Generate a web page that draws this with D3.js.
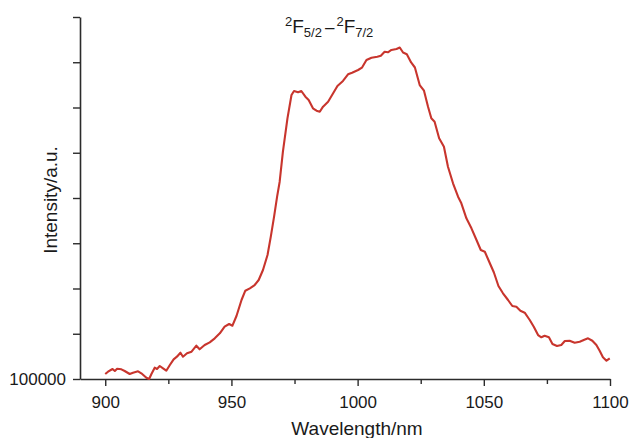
<!DOCTYPE html>
<html>
<head>
<meta charset="utf-8">
<script src="https://cdn.jsdelivr.net/npm/d3@7"></script>
<style>
  html, body { margin: 0; padding: 0; background: #fff; }
  svg { display: block; font-family: "Liberation Sans", Arial, Helvetica, sans-serif; }
</style>
</head>
<body>
<div id="chart"></div>
<script>
// emission spectrum
const wavelengths = [
  900, 901.1, 902.9, 903.8, 904.7, 906.4, 907.7, 909.7, 911.0, 913.0,
  914.3, 916.3, 917.4, 918.3, 919.6, 920.5, 921.6, 922.9, 924.2, 925.6,
  927.1, 928.4, 929.8, 930.8, 932.4, 934.2, 936.1, 937.4, 939.4, 941.4,
  943.4, 945.4, 947.3, 949.1, 950.4, 952.0, 954.0, 955.5, 957.3, 959.2,
  960.8, 962.5, 964.3, 965.6, 966.9, 968.1, 969.1, 970.4, 972.2, 973.8,
  974.8, 976.4, 977.7, 979.3, 980.6, 982.3, 983.7, 985.0, 986.3, 988.3,
  990.3, 992.0, 994.2, 996.2, 997.8, 1000.2, 1001.7, 1003.5, 1005.5, 1007.8,
  1009.2, 1010.7, 1012.0, 1013.4, 1015.4, 1016.7, 1018.0, 1019.5, 1021.2, 1022.7,
  1024.6, 1026.3, 1027.9, 1029.2, 1030.5, 1032.3, 1034.2, 1035.8, 1037.8, 1039.8,
  1041.1, 1043.1, 1045.1, 1047.1, 1048.8, 1050.4, 1052.0, 1054.0, 1055.8, 1057.6,
  1059.6, 1061.3, 1062.9, 1064.5, 1066.2, 1068.2, 1069.8, 1071.5, 1072.8, 1074.1,
  1075.8, 1077.2, 1079.0, 1080.7, 1082.1, 1084.0, 1086.0, 1088.0, 1089.6, 1091.3,
  1093.0, 1094.6, 1095.9, 1097.2, 1098.6, 1099.9
];
const intensity = [
  111000, 116100, 122100, 117700, 122800, 121400, 117700, 111000, 113900, 117000,
  112600, 102900, 100000, 111000, 125000, 122100, 128700, 123600, 118300, 130900,
  143500, 149300, 158100, 149300, 156800, 160300, 173600, 165600, 175100, 181100,
  189900, 201000, 215600, 221600, 217800, 239200, 274600, 295100, 300400, 307700,
  318800, 340900, 374000, 414500, 458700, 502900, 535400, 602300, 676100, 727600,
  736500, 733600, 736500, 723900, 716600, 698200, 692900, 690700, 701800, 712800,
  731400, 747500, 758600, 773400, 776900, 782900, 788000, 805000, 810100, 812300,
  814500, 823300, 822000, 827100, 829300, 832600, 821600, 817800, 799500, 788400,
  749700, 737100, 701800, 676100, 668600, 632000, 613400, 569200, 532500, 502900,
  488300, 455100, 433000, 407200, 385100, 381300, 360800, 335400, 305500, 289400,
  274600, 261300, 259800, 250900, 246500, 230400, 215600, 197200, 192200, 195700,
  192200, 177400, 172900, 175100, 184000, 184600, 180200, 182400, 186200, 189900,
  184600, 175100, 162500, 148000, 140400, 145700
];
const xTicks = [900, 925, 950, 975, 1000, 1025, 1050, 1075, 1100];
const xLabelled = [900, 950, 1000, 1050, 1100];
const yTicks = [100000, 200000, 300000, 400000, 500000, 600000, 700000, 800000, 900000];
const yLabelled = [100000];

const W = 630, H = 438;
const plotLeft = 80, plotRight = 610, plotTop = 17, plotBottom = 379;

const svg = d3.select("#chart").append("svg")
  .attr("width", W)
  .attr("height", H);

const x = d3.scaleLinear().domain([890, 1100]).range([plotLeft, plotRight]);
const y = d3.scaleLinear().domain([100000, 900000]).range([plotBottom, plotTop]);

const axisColor = "#2b2b2b";

// x axis
const gx = svg.append("g")
  .attr("transform", `translate(0,${plotBottom})`)
  .call(d3.axisBottom(x)
    .tickValues(xTicks)
    .tickSizeOuter(0)
    .tickFormat(d => xLabelled.includes(d) ? d : ""));
gx.select(".domain").attr("stroke", axisColor).attr("stroke-width", 1.6);
gx.selectAll(".tick line")
  .attr("stroke", axisColor).attr("stroke-width", 1.4)
  .attr("y2", d => xLabelled.includes(d) ? 7 : 5);
gx.selectAll(".tick text")
  .attr("fill", "#1a1a1a")
  .attr("font-size", 17)
  .attr("y", 29).attr("dy", 0);

// y axis
const gy = svg.append("g")
  .attr("transform", `translate(${plotLeft},0)`)
  .call(d3.axisLeft(y)
    .tickValues(yTicks)
    .tickSizeOuter(0)
    .tickFormat(d => yLabelled.includes(d) ? d : ""));
gy.select(".domain").attr("stroke", axisColor).attr("stroke-width", 1.6);
gy.selectAll(".tick line")
  .attr("stroke", axisColor).attr("stroke-width", 1.4)
  .attr("x2", -7);
gy.selectAll(".tick text")
  .attr("fill", "#1a1a1a")
  .attr("font-size", 17)
  .attr("x", -14).attr("dy", "0.34em");

// spectrum
const pts = wavelengths.map((w, i) => [w, intensity[i]]);
svg.append("path")
  .datum(pts)
  .attr("fill", "none")
  .attr("stroke", "#c8352d")
  .attr("stroke-width", 2.1)
  .attr("stroke-linejoin", "round")
  .attr("d", d3.line().x(d => x(d[0])).y(d => y(d[1])));

// axis titles
svg.append("text")
  .attr("x", 357)
  .attr("y", 435)
  .attr("text-anchor", "middle")
  .attr("font-size", 19)
  .attr("fill", "#1a1a1a")
  .text("Wavelength/nm");

svg.append("text")
  .attr("transform", "translate(57,200) rotate(-90)")
  .attr("text-anchor", "middle")
  .attr("font-size", 19)
  .attr("fill", "#1a1a1a")
  .text("Intensity/a.u.");

// transition label
const title = svg.append("text")
  .attr("x", 285)
  .attr("y", 33)
  .attr("font-size", 19)
  .attr("fill", "#1a1a1a");
const parts = [
  { t: "2", size: 13, shift: 7, dx: 0 },
  { t: "F", size: 19, shift: 0, dx: 0 },
  { t: "5/2", size: 13, shift: -4, dx: 0 },
  { t: "\u2013", size: 17, shift: 0, dx: 3 },
  { t: "2", size: 13, shift: 7, dx: 2 },
  { t: "F", size: 19, shift: 0, dx: 0 },
  { t: "7/2", size: 13, shift: -4, dx: 0 }
];
let prevShift = 0;
parts.forEach(p => {
  title.append("tspan")
    .attr("font-size", p.size)
    .attr("dx", p.dx)
    .attr("dy", -(p.shift - prevShift))
    .text(p.t);
  prevShift = p.shift;
});
</script>
</body>
</html>
